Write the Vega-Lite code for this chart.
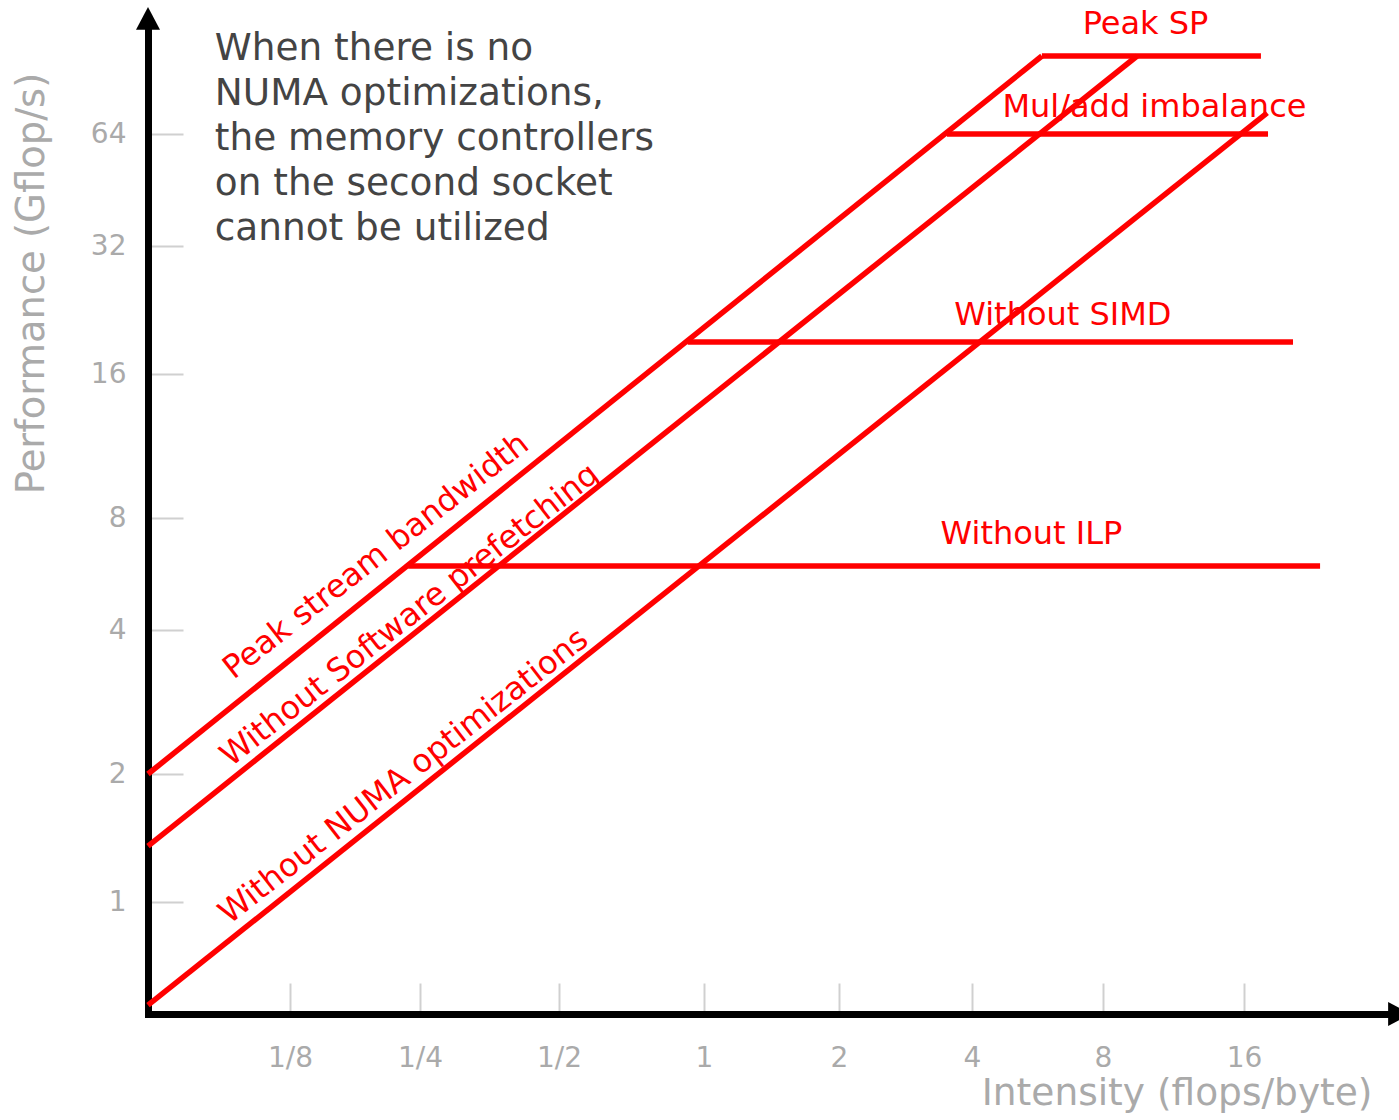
{
  "$schema": "https://vega.github.io/schema/vega-lite/v6.json",
  "width": 1251,
  "height": 992,
  "autosize": {"type": "none"},
  "padding": {"left": 148, "top": 22, "right": 0, "bottom": 106},
  "background": "white",
  "config": {"view": {"stroke": null}, "font": "DejaVu Sans"},
  "datasets": {
    "roofs": [
      {"series": "Peak stream bandwidth", "x": 0.0625, "y": 2},
      {"series": "Peak stream bandwidth", "x": 5.79, "y": 103.7},
      {"series": "Without Software prefetching", "x": 0.0625, "y": 1.354},
      {"series": "Without Software prefetching", "x": 9.46, "y": 103.7},
      {"series": "Without NUMA optimizations", "x": 0.0625, "y": 0.528},
      {"series": "Without NUMA optimizations", "x": 18.0, "y": 72.9},
      {"series": "Peak SP", "x": 5.79, "y": 103.7},
      {"series": "Peak SP", "x": 17.44, "y": 103.7},
      {"series": "Mul/add imbalance", "x": 3.51, "y": 64},
      {"series": "Mul/add imbalance", "x": 18.08, "y": 64},
      {"series": "Without SIMD", "x": 0.925, "y": 19.03},
      {"series": "Without SIMD", "x": 20.53, "y": 19.03},
      {"series": "Without ILP", "x": 0.2348, "y": 5.94},
      {"series": "Without ILP", "x": 23.56, "y": 5.94}
    ],
    "ceilingLabels": [
      {"label": "Peak SP", "x": 9.86, "y": 118.8},
      {"label": "Mul/add imbalance", "x": 10.3, "y": 71.1},
      {"label": "Without SIMD", "x": 6.47, "y": 20.87},
      {"label": "Without ILP", "x": 5.48, "y": 6.81}
    ],
    "bandwidthLabels": [
      {"label": "Peak stream bandwidth", "x": 0.2043, "y": 6.02},
      {"label": "Without Software prefetching", "x": 0.2445, "y": 4.178},
      {"label": "Without NUMA optimizations", "x": 0.2366, "y": 1.895}
    ],
    "note": [
      {"label": "When there is no\nNUMA optimizations,\nthe memory controllers\non the second socket\ncannot be utilized", "x": 0.0866, "y": 101.2}
    ],
    "yArrow": [{"x": 0.0625, "y": 140.5}],
    "xArrow": [{"x": 37.4, "y": 0.5}]
  },
  "encoding": {
    "x": {
      "field": "x",
      "type": "quantitative",
      "title": "Intensity (flops/byte)",
      "scale": {
        "type": "log",
        "base": 2,
        "nice": false,
        "zero": false,
        "domain": [0.0625, 0.125, 0.25, 0.5, 1, 2, 4, 8, 16, 35.2],
        "range": [0, 142, 272, 411, 556, 691, 824, 955, 1096, 1251]
      },
      "axis": {
        "values": [0.125, 0.25, 0.5, 1, 2, 4, 8, 16],
        "labelExpr": "datum.value >= 1 ? '' + datum.value : '1/' + round(1 / datum.value)",
        "grid": false,
        "domainColor": "black",
        "domainWidth": 7,
        "domainCap": "square",
        "tickColor": "#d0d0d0",
        "tickWidth": 2,
        "tickSize": -31,
        "labelPadding": 61,
        "labelAlign": "center",
        "labelBaseline": "top",
        "labelFont": "DejaVu Sans",
        "labelFontSize": 28,
        "labelColor": "#aaaaaa",
        "labelFlush": false,
        "labelOverlap": false,
        "labelBound": false,
        "titleX": 1224,
        "titleY": 90,
        "titleAlign": "right",
        "titleBaseline": "alphabetic",
        "titleFont": "DejaVu Sans",
        "titleFontSize": 37.5,
        "titleFontWeight": "normal",
        "titleColor": "#aaaaaa"
      }
    },
    "y": {
      "field": "y",
      "type": "quantitative",
      "title": "Performance (Gflop/s)",
      "scale": {
        "type": "log",
        "base": 2,
        "nice": false,
        "zero": false,
        "domain": [0.5, 1, 2, 4, 8, 16, 32, 64, 128],
        "range": [992, 880, 752, 608, 496, 352, 224, 112, 0]
      },
      "axis": {
        "values": [1, 2, 4, 8, 16, 32, 64],
        "labelExpr": "'' + datum.value",
        "grid": false,
        "domainColor": "black",
        "domainWidth": 7,
        "domainCap": "square",
        "tickColor": "#d0d0d0",
        "tickWidth": 2,
        "tickSize": -35,
        "labelPadding": 57,
        "labelAlign": "right",
        "labelBaseline": "middle",
        "labelFont": "DejaVu Sans",
        "labelFontSize": 28,
        "labelColor": "#aaaaaa",
        "labelFlush": false,
        "labelOverlap": false,
        "labelBound": false,
        "titleX": -105,
        "titleY": 261,
        "titleAngle": 270,
        "titleAlign": "center",
        "titleBaseline": "alphabetic",
        "titleFont": "DejaVu Sans",
        "titleFontSize": 38.5,
        "titleFontWeight": "normal",
        "titleColor": "#aaaaaa"
      }
    }
  },
  "layer": [
    {
      "data": {"name": "roofs"},
      "mark": {"type": "line", "color": "#ff0000", "strokeWidth": 5.5, "strokeCap": "butt"},
      "encoding": {"detail": {"field": "series", "type": "nominal"}}
    },
    {
      "data": {"name": "ceilingLabels"},
      "mark": {"type": "text", "color": "#ff0000", "fontSize": 32, "font": "DejaVu Sans", "align": "center", "baseline": "alphabetic"},
      "encoding": {"text": {"field": "label", "type": "nominal"}}
    },
    {
      "data": {"name": "bandwidthLabels"},
      "mark": {"type": "text", "color": "#ff0000", "fontSize": 32, "font": "DejaVu Sans", "align": "center", "baseline": "alphabetic", "angle": 322},
      "encoding": {"text": {"field": "label", "type": "nominal"}}
    },
    {
      "data": {"name": "note"},
      "mark": {"type": "text", "color": "#444444", "fontSize": 37.4, "font": "DejaVu Sans", "align": "left", "baseline": "alphabetic", "lineBreak": "\n", "lineHeight": 45},
      "encoding": {"text": {"field": "label", "type": "nominal"}}
    },
    {
      "data": {"name": "yArrow"},
      "mark": {"type": "point", "shape": "M0,0L1,1.9L-1,1.9Z", "size": 576, "filled": true, "color": "black", "opacity": 1, "strokeWidth": 0}
    },
    {
      "data": {"name": "xArrow"},
      "mark": {"type": "point", "shape": "M0,0L-1.9,-1L-1.9,1Z", "size": 576, "filled": true, "color": "black", "opacity": 1, "strokeWidth": 0}
    }
  ]
}
